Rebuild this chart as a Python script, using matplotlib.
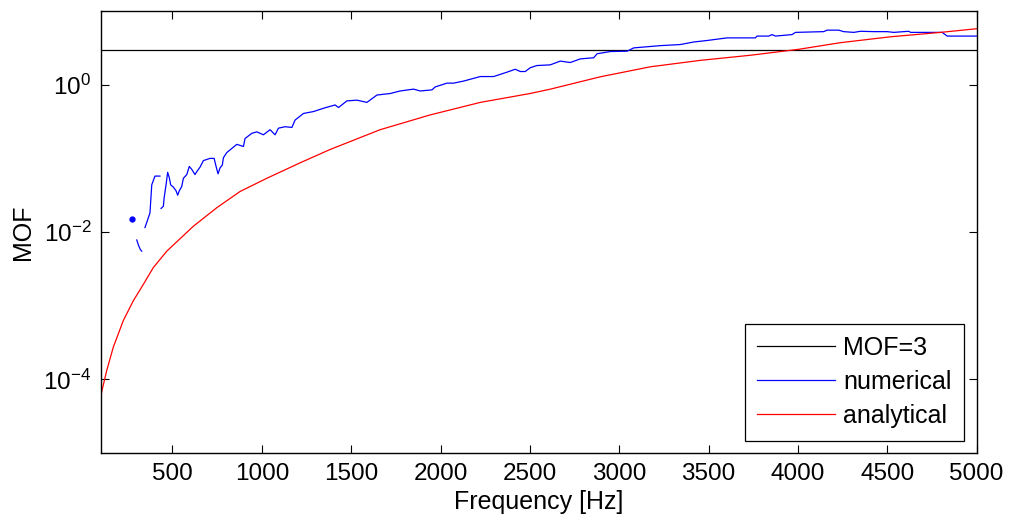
import numpy as np
import matplotlib
matplotlib.use('Agg')
import matplotlib.pyplot as plt
from matplotlib.ticker import FixedLocator, NullLocator

plt.rcParams['font.family'] = ['Liberation Sans', 'DejaVu Sans']
plt.rcParams['mathtext.default'] = 'regular'

mof_limit = 3

# analytical MOF
f_ana = [100, 104, 132, 169, 225, 281, 337, 393, 468, 617, 748, 878, 1028, 1214,
         1382, 1662, 1942, 2222, 2502, 2614, 2894, 3174, 3454, 3734, 4003, 4238,
         4518, 4798, 5000]
mof_ana = [6.0e-5, 6.8e-5, 1.32e-4, 2.75e-4, 6.3e-4, 1.17e-3, 1.95e-3, 3.3e-3, 5.5e-3,
           0.012, 0.0214, 0.0355, 0.0537, 0.087, 0.132, 0.245, 0.389, 0.575, 0.76,
           0.87, 1.28, 1.75, 2.14, 2.51, 3.02, 3.72, 4.47, 5.13, 5.75]

# numerical MOF, NaN where the curve breaks
f_num = [300, 310, 320, 328, np.nan,
         346, 356, 374, 384, 402, 430, np.nan,
         436, 449, 453, 464, 473, 482, 490, 505, 520, 529, 538, 552, 561, 580, 594,
         608, 626, 636, 654, 673, 710, 733, 744, 755, 766, 779, 785, 804, 860, 897,
         906, 944, 972, 1009, 1046, 1074, 1093, 1130, 1168, 1186, 1233, 1289, 1345,
         1410, 1429, 1476, 1532, 1588, 1644, 1718, 1774, 1849, 1886, 1952, 1970,
         2036, 2073, 2129, 2222, 2297, 2372, 2418, 2446, 2474, 2502, 2539, 2614,
         2670, 2726, 2782, 2857, 2876, 2950, 3044, 3081, 3230, 3342, 3417, 3491,
         3603, 3678, 3762, 3771, 3837, 3855, 3874, 3967, 3986, 4144, 4163, 4228,
         4256, 4312, 4350, 4424, 4499, 4536, 4620, 4630, 4723, 4807, 4835, 4909, 5000]
mof_num = [0.0078, 0.0066, 0.0058, 0.0055, np.nan,
           0.0115, 0.0135, 0.0182, 0.0437, 0.0575, 0.0575, np.nan,
           0.0209, 0.0224, 0.0288, 0.0437, 0.0646, 0.055, 0.0437, 0.0407, 0.0363,
           0.0316, 0.0363, 0.0417, 0.0537, 0.0603, 0.0776, 0.0708, 0.0603, 0.0661,
           0.0759, 0.0933, 0.100, 0.100, 0.0776, 0.0617, 0.0741, 0.0813, 0.102, 0.120,
           0.155, 0.145, 0.186, 0.219, 0.229, 0.209, 0.245, 0.209, 0.257, 0.269, 0.263,
           0.331, 0.407, 0.432, 0.479, 0.531, 0.490, 0.603, 0.617, 0.575, 0.724, 0.759,
           0.822, 0.871, 0.822, 0.851, 0.933, 1.05, 1.05, 1.12, 1.29, 1.29, 1.48, 1.62,
           1.51, 1.51, 1.70, 1.82, 1.86, 2.09, 2.00, 2.24, 2.32, 2.63, 2.82, 2.85, 3.16,
           3.39, 3.51, 3.80, 3.98, 4.32, 4.32, 4.32, 4.57, 4.57, 4.79, 4.57, 4.79, 5.13,
           5.25, 5.50, 5.50, 5.25, 5.13, 5.31, 5.25, 5.25, 5.13, 5.31, 5.13, 5.13, 5.13,
           4.57, 4.57, 4.57]

# isolated numerical point
f_dot = [272]
mof_dot = [0.0149]

xticks = [500, 1000, 1500, 2000, 2500, 3000, 3500, 4000, 4500, 5000]
yticks = [1e-4, 1e-2, 1e0]

fig = plt.figure(figsize=(10.1, 5.25), dpi=100)
ax = fig.add_axes([0.1, 0.137, 0.867, 0.842])

ax.axhline(mof_limit, color='black', lw=0.9, label='MOF=3')
ax.plot(f_num, mof_num, color='blue', lw=0.9, label='numerical')
ax.plot(f_dot, mof_dot, 'o', color='blue', ms=3.5)
ax.plot(f_ana, mof_ana, color='red', lw=0.9, label='analytical')

ax.set_yscale('log')
ax.set_xlim(100, 5000)
ax.set_ylim(1e-5, 10)
ax.xaxis.set_major_locator(FixedLocator(xticks))
ax.yaxis.set_major_locator(FixedLocator(yticks))
ax.yaxis.set_minor_locator(NullLocator())
ax.tick_params(direction='in', top=True, right=True, length=6, width=0.8,
               labelsize=17.5, pad=7)
for s in ax.spines.values():
    s.set_linewidth(1.0)

ax.set_xlabel('Frequency [Hz]', fontsize=18, labelpad=4)
ax.set_ylabel('MOF', fontsize=18, labelpad=6)

leg = ax.legend(loc='lower right', fontsize=18, handlelength=3.1, fancybox=False,
                edgecolor='black', framealpha=1, borderaxespad=0.5,
                labelspacing=0.4, handletextpad=0.35, borderpad=0.5)
leg.get_frame().set_linewidth(0.9)

fig.savefig('out.png', dpi=100)
